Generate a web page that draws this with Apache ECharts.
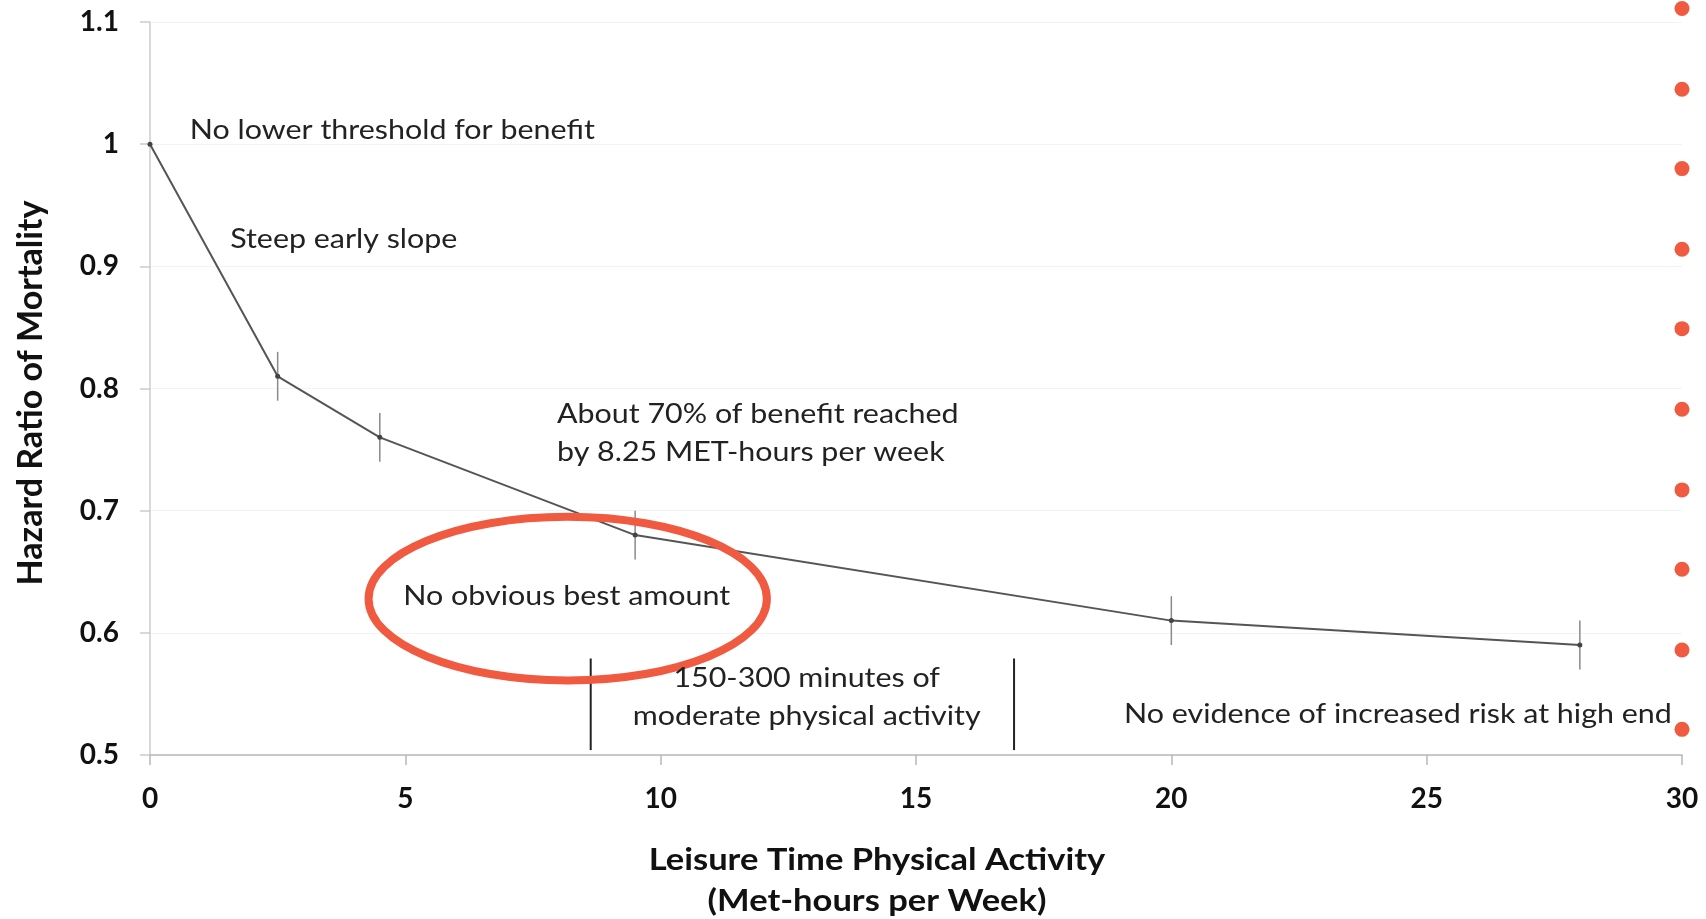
<!DOCTYPE html>
<html>
<head>
<meta charset="utf-8">
<script src="https://cdn.jsdelivr.net/npm/echarts@6/dist/echarts.min.js"></script>
<style>
  html, body { margin: 0; padding: 0; background: #ffffff; }
  #chart { width: 1706px; height: 919px; }
</style>
</head>
<body>
<div id="chart"></div>
<script>
// Leisure-time physical activity (MET-hours per week) vs hazard ratio of mortality
const metHours    = [0, 2.5, 4.5, 9.5, 20, 28];
const hazardRatio = [1.00, 0.81, 0.76, 0.68, 0.61, 0.59];
const ciLow       = [null, 0.79, 0.74, 0.66, 0.59, 0.57];
const ciHigh      = [null, 0.83, 0.78, 0.70, 0.63, 0.61];

// Recommended range (150-300 min of moderate activity) boundaries
const guidelineX    = [8.63, 16.92];
const guidelineSpan = [0.504, 0.579];

// Dotted red marker column at the right edge
const markerX = 30;
const markerY = [1.111, 1.045, 0.980, 0.914, 0.849, 0.783, 0.717, 0.652, 0.586, 0.521];

// Axis ticks
const xTicks = [0, 5, 10, 15, 20, 25, 30];
const yTicks = [0.5, 0.6, 0.7, 0.8, 0.9, 1, 1.1];

// Callout ellipse in data units: centre x, centre y, radius x, radius y
const calloutEllipse = [8.18, 0.628, 3.90, 0.067];

// Annotations, anchored in data units
const notes = [
  { text: 'No lower threshold for benefit', x: 0.78, y: 1.011, align: 'left' },
  { text: 'Steep early slope', x: 1.57, y: 0.922, align: 'left' },
  { text: 'About 70% of benefit reached\nby 8.25 MET-hours per week', x: 7.97, y: 0.763, align: 'left' },
  { text: 'No obvious best amount', x: 4.96, y: 0.630, align: 'left' },
  { text: '150-300 minutes of\nmoderate physical activity', x: 12.86, y: 0.547, align: 'center' },
  { text: 'No evidence of increased risk at high end', x: 29.8, y: 0.533, align: 'right' }
];

const FONT = 'Lato, "Open Sans", "DejaVu Sans", sans-serif';
const RED = '#EF5A40';
const TEXT_STRETCH = 1.17;

const chart = echarts.init(document.getElementById('chart'), null, { renderer: 'canvas' });

const lineData = metHours.map((x, i) => [x, hazardRatio[i]]);
const errData = metHours.map((x, i) => [x, ciLow[i], ciHigh[i]]).filter(d => d[1] != null);
const markerData = markerY.map(y => [markerX, y]);

function vSegment(color, width) {
  return (params, api) => {
    const x = api.value(0);
    const lo = api.coord([x, api.value(1)]);
    const hi = api.coord([x, api.value(2)]);
    return {
      type: 'line',
      shape: { x1: lo[0], y1: lo[1], x2: hi[0], y2: hi[1] },
      style: { stroke: color, lineWidth: width }
    };
  };
}

chart.setOption({
  animation: false,
  backgroundColor: '#ffffff',
  grid: { left: 150, right: 24, top: 22, bottom: 164, containLabel: false },
  xAxis: {
    type: 'value',
    min: xTicks[0],
    max: xTicks[xTicks.length - 1],
    interval: xTicks[1] - xTicks[0],
    axisLine: { show: true, lineStyle: { color: '#b8b8b8', width: 1.5 } },
    axisTick: { show: true, length: 10, lineStyle: { color: '#b8b8b8', width: 1.5 } },
    axisLabel: { margin: 30, fontFamily: FONT, fontWeight: 'bold', fontSize: 28, color: '#111' },
    splitLine: { show: false }
  },
  yAxis: {
    type: 'value',
    min: yTicks[0],
    max: yTicks[yTicks.length - 1],
    interval: 0.1,
    axisLine: { show: true, lineStyle: { color: '#cccccc', width: 1.5 } },
    axisTick: { show: true, length: 10, lineStyle: { color: '#cccccc', width: 1.5 } },
    axisLabel: {
      margin: 31, fontFamily: FONT, fontWeight: 'bold', fontSize: 28, color: '#111',
      formatter: v => String(parseFloat(v.toFixed(2)))
    },
    splitLine: { show: true, lineStyle: { color: '#f3f3f3', width: 1 } }
  },
  series: [
    {
      name: 'Hazard ratio',
      type: 'line',
      data: lineData,
      symbol: 'circle',
      symbolSize: 5,
      itemStyle: { color: '#444' },
      lineStyle: { color: '#555', width: 2 },
      z: 3
    },
    {
      name: '95% CI',
      type: 'custom',
      data: errData,
      renderItem: vSegment('#8a8a8a', 1.5),
      z: 2
    },
    {
      name: 'Guideline range',
      type: 'custom',
      data: guidelineX.map(x => [x, guidelineSpan[0], guidelineSpan[1]]),
      renderItem: vSegment('#222', 2),
      z: 2
    },
    {
      name: 'Marker column',
      type: 'scatter',
      data: markerData,
      symbol: 'circle',
      symbolSize: 15,
      itemStyle: { color: RED, opacity: 1 },
      clip: false,
      z: 5
    }
  ]
});

// Annotations, axis titles and callout ellipse, placed through the axis scales
function placeOverlays() {
  const toPx = (x, y) => chart.convertToPixel({ gridIndex: 0 }, [x, y]);
  const elements = [];

  const c = toPx(calloutEllipse[0], calloutEllipse[1]);
  const ex = toPx(calloutEllipse[0] + calloutEllipse[2], calloutEllipse[1]);
  const ey = toPx(calloutEllipse[0], calloutEllipse[1] + calloutEllipse[3]);
  elements.push({
    type: 'ellipse',
    shape: { cx: c[0], cy: c[1], rx: Math.abs(ex[0] - c[0]), ry: Math.abs(c[1] - ey[1]) },
    style: { fill: 'none', stroke: RED, lineWidth: 8 },
    z: 100
  });

  notes.forEach(n => {
    const p = toPx(n.x, n.y);
    elements.push({
      type: 'text',
      x: p[0],
      y: p[1],
      scaleX: TEXT_STRETCH,
      style: {
        text: n.text,
        fill: '#222',
        font: '26px ' + FONT,
        lineHeight: 38,
        align: n.align,
        verticalAlign: 'middle',
        textAlign: n.align,
        textVerticalAlign: 'middle'
      },
      z: 100
    });
  });

  // y-axis title, rotated, left of the tick labels
  elements.push({
    type: 'text',
    x: 31,
    y: 393,
    rotation: Math.PI / 2,
    style: {
      text: 'Hazard Ratio of Mortality',
      fill: '#111',
      font: 'bold 34px ' + FONT,
      align: 'center',
      verticalAlign: 'middle',
      textAlign: 'center',
      textVerticalAlign: 'middle'
    },
    z: 100
  });

  // x-axis title, two lines below the tick labels
  elements.push({
    type: 'text',
    x: 877,
    y: 881,
    scaleX: 1.15,
    style: {
      text: 'Leisure Time Physical Activity\n(Met-hours per Week)',
      fill: '#111',
      font: 'bold 30px ' + FONT,
      lineHeight: 41,
      align: 'center',
      verticalAlign: 'middle',
      textAlign: 'center',
      textVerticalAlign: 'middle'
    },
    z: 100
  });

  chart.setOption({ graphic: { elements } });
}
placeOverlays();
</script>
</body>
</html>
